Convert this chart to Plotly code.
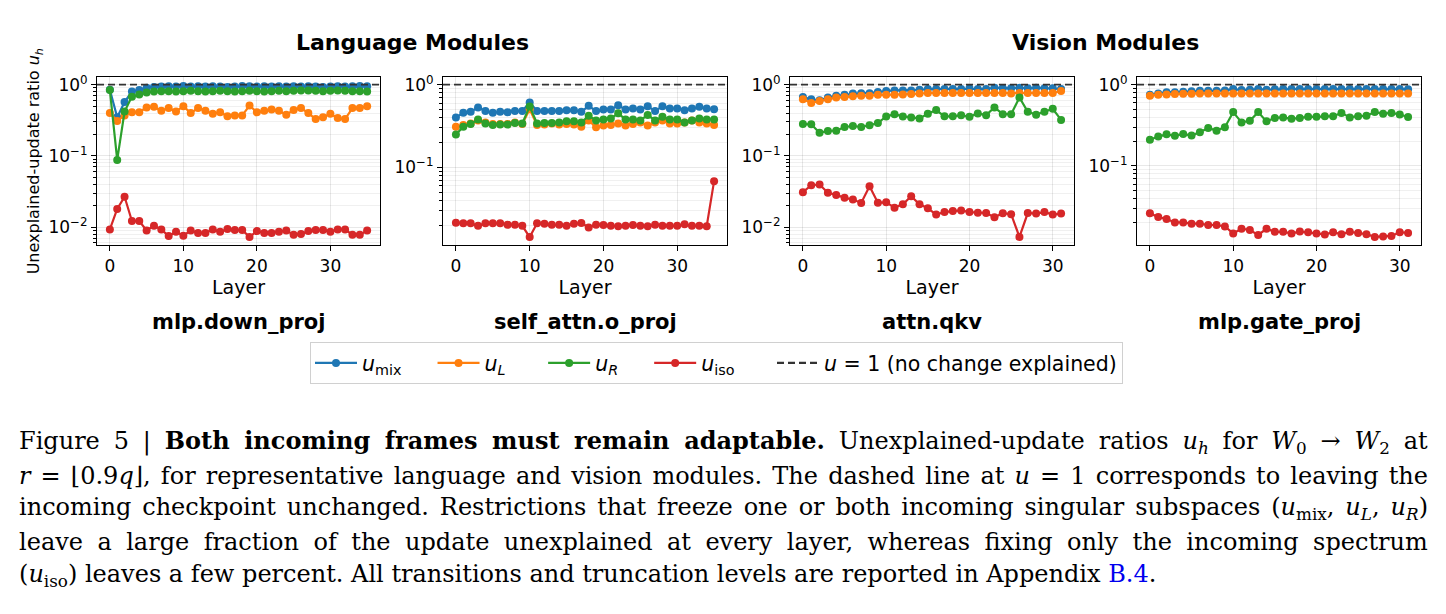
import plotly.graph_objects as go

W, H = 1446, 614

# ---------------- data ----------------
layers_lang = list(range(36))
layers_vis = list(range(32))

# mlp.down_proj (language)
down_mix = [0.85, 0.35, 0.57, 0.80, 0.84, 0.91, 0.93, 0.94, 0.95, 0.94, 0.96, 0.94,
            0.95, 0.94, 0.95, 0.94, 0.93, 0.94, 0.96, 0.95, 0.94, 0.95, 0.94, 0.95,
            0.94, 0.95, 0.94, 0.95, 0.94, 0.93, 0.94, 0.95, 0.94, 0.95, 0.96, 0.95]
down_L = [0.40, 0.31, 0.37, 0.41, 0.41, 0.48, 0.49, 0.43, 0.47, 0.42, 0.50, 0.40,
          0.47, 0.43, 0.39, 0.41, 0.36, 0.37, 0.37, 0.51, 0.41, 0.43, 0.45, 0.43,
          0.38, 0.44, 0.47, 0.40, 0.33, 0.35, 0.39, 0.34, 0.33, 0.47, 0.47, 0.50]
down_R = [0.84, 0.088, 0.42, 0.68, 0.73, 0.78, 0.80, 0.81, 0.81, 0.80, 0.81, 0.82,
          0.81, 0.80, 0.81, 0.82, 0.81, 0.80, 0.81, 0.82, 0.81, 0.80, 0.81, 0.82,
          0.81, 0.82, 0.83, 0.83, 0.82, 0.81, 0.82, 0.83, 0.82, 0.81, 0.81, 0.80]
down_iso = [0.0093, 0.018, 0.0267, 0.0122, 0.0122, 0.0090, 0.0105, 0.0093, 0.0075, 0.0086,
            0.0076, 0.0090, 0.0083, 0.0083, 0.0093, 0.0086, 0.0094, 0.0091, 0.0091, 0.0073,
            0.0088, 0.0083, 0.0083, 0.0086, 0.0090, 0.0078, 0.0080, 0.0088, 0.0091, 0.0091,
            0.0086, 0.0093, 0.0093, 0.0078, 0.0078, 0.0090]

# self_attn.o_proj (language)
oproj_mix = [0.40, 0.457, 0.47, 0.53, 0.48, 0.457, 0.47, 0.465, 0.48, 0.48, 0.61, 0.48,
             0.48, 0.48, 0.48, 0.49, 0.49, 0.47, 0.555, 0.48, 0.50, 0.50, 0.565, 0.50,
             0.515, 0.50, 0.55, 0.48, 0.55, 0.515, 0.515, 0.49, 0.515, 0.54, 0.515, 0.505]
oproj_L = [0.31, 0.325, 0.34, 0.37, 0.35, 0.335, 0.335, 0.335, 0.35, 0.335, 0.505, 0.325,
           0.33, 0.34, 0.33, 0.335, 0.33, 0.31, 0.37, 0.305, 0.32, 0.325, 0.34, 0.32,
           0.335, 0.35, 0.32, 0.35, 0.37, 0.34, 0.34, 0.35, 0.37, 0.35, 0.34, 0.325]
oproj_R = [0.249, 0.31, 0.335, 0.38, 0.34, 0.325, 0.33, 0.33, 0.345, 0.34, 0.545, 0.34,
           0.345, 0.345, 0.35, 0.36, 0.36, 0.35, 0.42, 0.37, 0.38, 0.39, 0.45, 0.38,
           0.38, 0.37, 0.43, 0.37, 0.41, 0.38, 0.38, 0.35, 0.37, 0.39, 0.38, 0.38]
oproj_iso = [0.0213, 0.021, 0.021, 0.0196, 0.021, 0.021, 0.021, 0.0202, 0.0202, 0.0196,
             0.0143, 0.021, 0.0207, 0.0202, 0.0202, 0.0196, 0.0207, 0.0212, 0.0187, 0.0202,
             0.0200, 0.0196, 0.0193, 0.0196, 0.0200, 0.0196, 0.0193, 0.0202, 0.0196, 0.0196,
             0.0196, 0.0204, 0.0196, 0.0196, 0.0194, 0.068]

# attn.qkv (vision)
qkv_mix = [0.67, 0.625, 0.605, 0.66, 0.70, 0.725, 0.75, 0.76, 0.76, 0.79, 0.816, 0.83,
           0.83, 0.83, 0.85, 0.87, 0.87, 0.87, 0.87, 0.87, 0.89, 0.87, 0.87, 0.91,
           0.89, 0.89, 0.91, 0.89, 0.91, 0.89, 0.89, 0.87]
qkv_L = [0.625, 0.555, 0.59, 0.625, 0.66, 0.67, 0.69, 0.70, 0.70, 0.72, 0.72, 0.725,
         0.73, 0.74, 0.75, 0.765, 0.765, 0.765, 0.765, 0.765, 0.765, 0.765, 0.765, 0.765,
         0.765, 0.75, 0.765, 0.765, 0.765, 0.765, 0.765, 0.816]
qkv_R = [0.28, 0.278, 0.212, 0.224, 0.226, 0.255, 0.263, 0.255, 0.27, 0.29, 0.359, 0.386,
         0.359, 0.347, 0.336, 0.39, 0.44, 0.36, 0.36, 0.374, 0.355, 0.395, 0.374, 0.48,
         0.386, 0.386, 0.66, 0.416, 0.38, 0.416, 0.46, 0.32]
qkv_iso = [0.031, 0.0388, 0.0397, 0.0304, 0.0284, 0.0259, 0.0244, 0.0219, 0.0376, 0.0221,
           0.0223, 0.0188, 0.0209, 0.0272, 0.0209, 0.0184, 0.0150, 0.0163, 0.0168, 0.0172,
           0.0163, 0.0160, 0.0158, 0.0138, 0.0157, 0.0152, 0.0073, 0.0158, 0.0155, 0.0163,
           0.0150, 0.0155]

# mlp.gate_proj (vision)
gate_mix = [0.75, 0.78, 0.81, 0.81, 0.82, 0.83, 0.84, 0.84, 0.84, 0.85, 0.885, 0.86,
            0.87, 0.885, 0.87, 0.88, 0.885, 0.885, 0.885, 0.885, 0.885, 0.885, 0.885, 0.885,
            0.885, 0.885, 0.885, 0.885, 0.885, 0.885, 0.885, 0.88]
gate_L = [0.73, 0.755, 0.76, 0.77, 0.775, 0.775, 0.78, 0.78, 0.78, 0.78, 0.78, 0.78,
          0.78, 0.78, 0.78, 0.78, 0.78, 0.78, 0.78, 0.78, 0.78, 0.78, 0.78, 0.78,
          0.78, 0.78, 0.78, 0.78, 0.78, 0.78, 0.78, 0.78]
gate_R = [0.21, 0.23, 0.245, 0.235, 0.248, 0.237, 0.26, 0.293, 0.272, 0.30, 0.46, 0.344,
          0.36, 0.46, 0.354, 0.39, 0.396, 0.38, 0.39, 0.403, 0.403, 0.41, 0.41, 0.45,
          0.396, 0.41, 0.415, 0.46, 0.44, 0.45, 0.43, 0.40]
gate_iso = [0.0262, 0.0235, 0.0223, 0.0202, 0.0202, 0.0195, 0.0195, 0.0188, 0.0188, 0.0180,
            0.0148, 0.0169, 0.0163, 0.0142, 0.0169, 0.0155, 0.0155, 0.0148, 0.0156, 0.0153,
            0.0148, 0.0144, 0.0153, 0.0145, 0.0155, 0.0150, 0.0145, 0.0134, 0.0136, 0.0138,
            0.0153, 0.0150]

panel_names = ["mlp.down_proj", "self_attn.o_proj", "attn.qkv", "mlp.gate_proj"]
group_titles = ["Language Modules", "Vision Modules"]
series_names = ["<i>u</i><sub>mix</sub>", "<i>u<sub>L</sub></i>", "<i>u<sub>R</sub></i>",
                "<i>u</i><sub>iso</sub>"]
ref_name = "<i>u</i> = 1 (no change explained)"
ref_value = 1.0
colors = ["#1f77b4", "#ff7f0e", "#2ca02c", "#d62728"]

panels = [
    (layers_lang, [down_mix, down_L, down_R, down_iso]),
    (layers_lang, [oproj_mix, oproj_L, oproj_R, oproj_iso]),
    (layers_vis, [qkv_mix, qkv_L, qkv_R, qkv_iso]),
    (layers_vis, [gate_mix, gate_L, gate_R, gate_iso]),
]

caption_lines = [
    "Figure 5 | <b>Both incoming frames must remain adaptable.</b> Unexplained-update ratios "
    "<i>u<sub>h</sub></i> for <i>W</i><sub>0</sub> → <i>W</i><sub>2</sub> at",
    "<i>r</i> = ⌊0.9<i>q</i>⌋, for representative language and vision modules. The dashed line at "
    "<i>u</i> = 1 corresponds to leaving the",
    "incoming checkpoint unchanged. Restrictions that freeze one or both incoming singular subspaces "
    "(<i>u</i><sub>mix</sub>, <i>u<sub>L</sub></i>, <i>u<sub>R</sub></i>)",
    "leave a large fraction of the update unexplained at every layer, whereas fixing only the incoming spectrum",
    "(<i>u</i><sub>iso</sub>) leaves a few percent. All transitions and truncation levels are reported in "
    "Appendix <span style='color:#0000ee'>B.4</span>.",
]
caption_y = [441, 474.5, 508, 541.5, 575]
caption_justify = [True, True, True, True, False]

# ---------------- layout geometry (pixels) ----------------
px_x = [(97, 380), (443, 727), (790, 1074), (1137, 1421)]
px_y = (72.7, 242.3)
x_ranges = [[-1.75, 36.75], [-1.75, 36.75], [-1.55, 32.55], [-1.55, 32.55]]
y_ranges = [[-2.255, 0.1067], [-1.944, 0.092], [-2.255, 0.1067], [-1.976, 0.0935]]
CAP_LEFT, CAP_RIGHT = 18, 1427

FONT = "DejaVu Sans"
GRID = "rgba(0,0,0,0.09)"
DASH = "7px,4px"

minor_vals = [m * 10.0 ** e for e in (-3, -2, -1, 0) for m in range(2, 10)]

fig = go.Figure()

pad = ["&nbsp;" * 4, "&nbsp;" * 5, "&nbsp;" * 4, "&nbsp;" * 5]
for i, (layers, series) in enumerate(panels):
    ax = "" if i == 0 else str(i + 1)
    for j, vals in enumerate(series):
        fig.add_trace(go.Scatter(
            x=layers, y=vals, mode="lines+markers",
            line=dict(color=colors[j], width=2.2),
            marker=dict(color=colors[j], size=8),
            name=series_names[j] + pad[j], legendgroup=str(j), showlegend=(i == 0),
            xaxis="x" + ax, yaxis="y" + ax,
        ))
    fig.add_shape(type="line", xref="x" + ax + " domain", yref="y" + ax,
                  x0=0, x1=1, y0=ref_value, y1=ref_value,
                  line=dict(color="#333333", width=1.8, dash=DASH))

    x0, x1 = px_x[i]
    fig.layout["xaxis" + ax] = dict(
        domain=[x0 / W, x1 / W], anchor="y" + ax, range=x_ranges[i],
        tickvals=[0, 10, 20, 30], ticks="outside", ticklen=5, tickcolor="black",
        showline=True, mirror=True, linecolor="black", linewidth=1,
        showgrid=True, gridcolor=GRID, gridwidth=1, zeroline=False,
        tickfont=dict(family=FONT, size=17, color="black"),
        title=dict(text="Layer", font=dict(family=FONT, size=19, color="black"), standoff=4),
    )
    fig.layout["yaxis" + ax] = dict(
        domain=[1 - px_y[1] / H, 1 - px_y[0] / H], anchor="x" + ax, type="log",
        range=y_ranges[i],
        tickvals=[0.01, 0.1, 1], ticktext=["10<sup>−2</sup>", "10<sup>−1</sup>", "10<sup>0</sup>"],
        ticks="outside", ticklen=5, tickcolor="black",
        showline=True, mirror=True, linecolor="black", linewidth=1,
        showgrid=True, gridcolor=GRID, gridwidth=1, zeroline=False,
        tickfont=dict(family=FONT, size=17, color="black"),
        minor=dict(tickvals=minor_vals, ticks="outside", ticklen=3, tickcolor="black",
                   showgrid=True, gridcolor="rgba(0,0,0,0.06)", gridwidth=1),
    )
    fig.add_annotation(
        text="<b>" + panel_names[i] + "</b>", xref="x" + ax + " domain", yref="paper",
        x=0.5, y=1 - 320 / H, xanchor="center", yanchor="middle", showarrow=False,
        font=dict(family=FONT, size=21, color="black"),
    )

fig.layout.yaxis.title = dict(text="Unexplained-update ratio <i>u<sub>h</sub></i>",
                              font=dict(family=FONT, size=16, color="black"), standoff=4)

# legend entry for the reference line
fig.add_trace(go.Scatter(
    x=[None], y=[None], mode="lines", name=ref_name,
    line=dict(color="#333333", width=2.2, dash=DASH), showlegend=True,
))

# group titles
for k, title in enumerate(group_titles):
    left = px_x[2 * k][0]
    right = px_x[2 * k + 1][1]
    fig.add_annotation(
        text="<b>" + title + "</b>", xref="paper", yref="paper",
        x=((left + right) / 2) / W, y=1 - 38 / H, xanchor="center", yanchor="middle",
        showarrow=False, font=dict(family=FONT, size=22, color="black"),
    )

# caption (one annotation per line; justified lines are stretched in the page)
first_caption_index = len(fig.layout.annotations)
justify_indices = []
for n, (line, yy, just) in enumerate(zip(caption_lines, caption_y, caption_justify)):
    if just:
        justify_indices.append(first_caption_index + n)
    fig.add_annotation(
        text=line, xref="paper", yref="paper", x=CAP_LEFT / W, y=1 - yy / H,
        xanchor="left", yanchor="middle", showarrow=False, align="left", borderpad=0,
        font=dict(family="DejaVu Serif", size=24, color="black"),
    )

fig.update_layout(
    width=W, height=H, margin=dict(l=0, r=0, t=0, b=0),
    paper_bgcolor="white", plot_bgcolor="white",
    showlegend=True,
    legend=dict(
        orientation="h", x=716.5 / W, y=1 - 361 / H, xanchor="center", yanchor="middle",
        bordercolor="#d0d0d0", borderwidth=1, bgcolor="white",
        font=dict(family=FONT, size=20.5, color="black"),
        itemwidth=42, tracegroupgap=0,
    ),
)

justify_js = """
document.body.style.margin = '0';
(function () {
  var gd = document.getElementById('{plot_id}');
  var idx = %s;
  var target = %f;
  gd.querySelectorAll('g.annotation').forEach(function (g) {
    var k = parseInt(g.getAttribute('data-index'), 10);
    if (idx.indexOf(k) < 0) return;
    var t = g.querySelector('text.annotation-text');
    if (!t) return;
    var w = t.getBBox().width;
    var spaces = (t.textContent.match(/ /g) || []).length;
    if (spaces > 0) t.style.wordSpacing = ((target - w) / spaces) + 'px';
  });
})();
""" % (str(justify_indices), float(CAP_RIGHT - CAP_LEFT))

fig.write_html("out.html", config={"displayModeBar": False}, post_script=justify_js)
